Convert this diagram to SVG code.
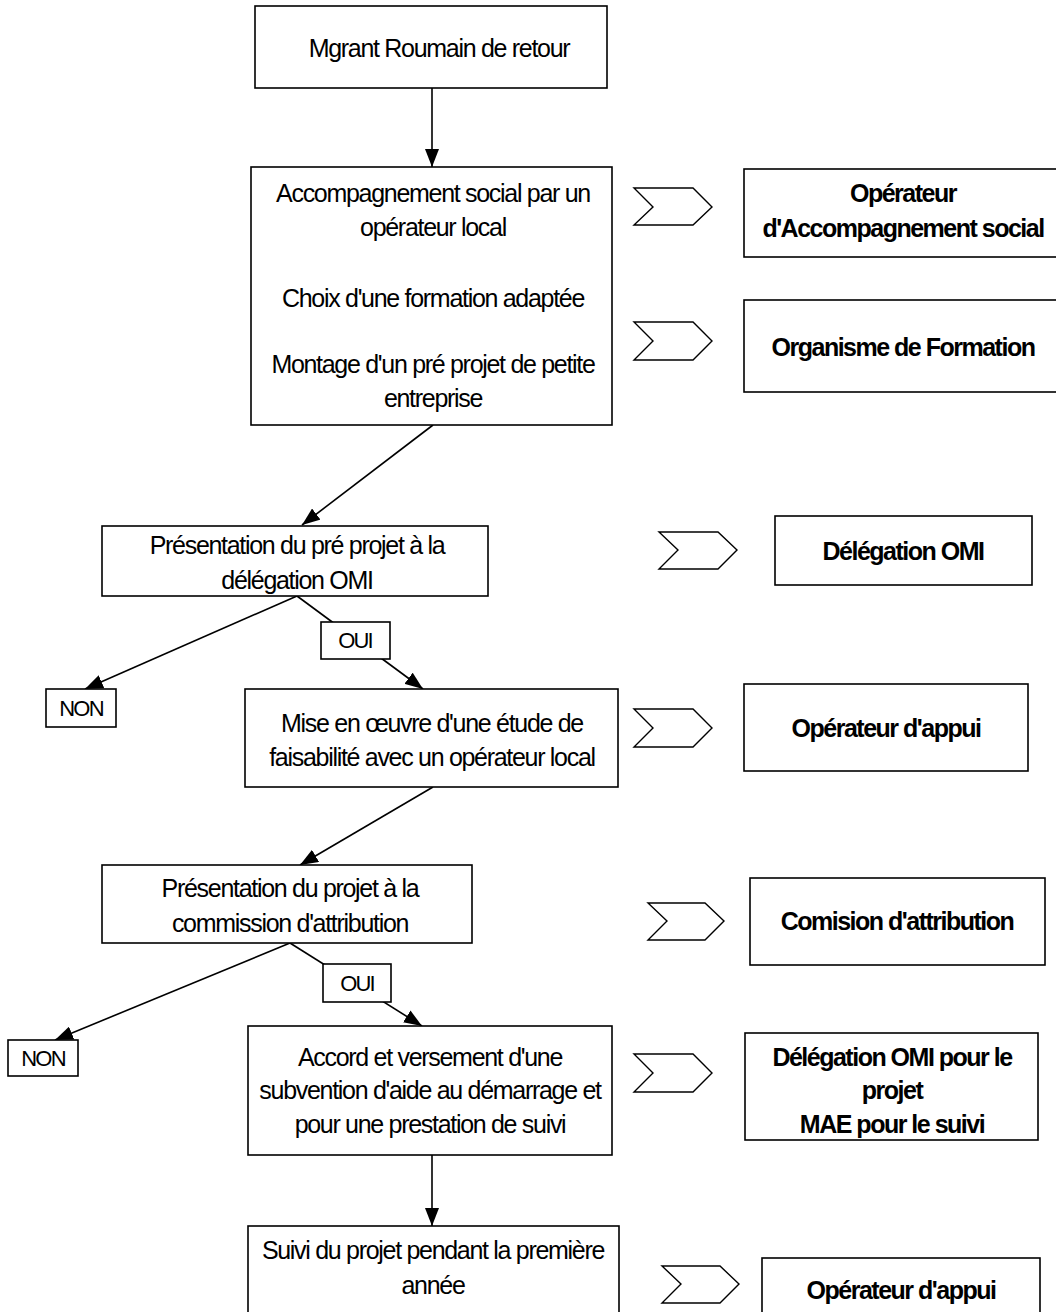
<svg xmlns="http://www.w3.org/2000/svg" width="1056" height="1312" viewBox="0 0 1056 1312">
<style>
  .box { fill: #fff; stroke: #000; stroke-width: 1.6; }
  .chev { fill: #fff; stroke: #000; stroke-width: 1.4; stroke-linejoin: miter; }
  .t { font-family: "Liberation Sans", Arial, sans-serif; font-size: 25px; letter-spacing: -1.3px; text-anchor: middle; fill: #000; }
  .b { font-family: "Liberation Sans", Arial, sans-serif; font-size: 25px; font-weight: bold; letter-spacing: -1.5px; text-anchor: middle; fill: #000; }
  .lbl { font-family: "Liberation Sans", Arial, sans-serif; font-size: 22px; letter-spacing: -1.8px; text-anchor: middle; fill: #000; }
  .conn { stroke: #000; stroke-width: 1.6; fill: none; }
</style>
<defs>
  <marker id="ah" viewBox="0 0 18 14" refX="18" refY="7" markerWidth="18" markerHeight="14" markerUnits="userSpaceOnUse" orient="auto">
    <path d="M0,0 L18,7 L0,14 Z" fill="#000"/>
  </marker>
</defs>
<rect width="1056" height="1312" fill="#fff"/>

<g id="connectors">
  <line class="conn" x1="432" y1="88" x2="432" y2="167" marker-end="url(#ah)"/>
  <line class="conn" x1="433" y1="425" x2="302" y2="525" marker-end="url(#ah)"/>
  <line class="conn" x1="297" y1="596" x2="85" y2="689" marker-end="url(#ah)"/>
  <line class="conn" x1="297" y1="596" x2="423" y2="689" marker-end="url(#ah)"/>
  <line class="conn" x1="433" y1="787" x2="300" y2="865" marker-end="url(#ah)"/>
  <line class="conn" x1="290" y1="943" x2="55" y2="1040" marker-end="url(#ah)"/>
  <line class="conn" x1="290" y1="943" x2="422" y2="1026" marker-end="url(#ah)"/>
  <line class="conn" x1="432" y1="1155" x2="432" y2="1226" marker-end="url(#ah)"/>
</g>

<g id="n-migrant">
  <rect class="box" x="255" y="6" width="352" height="82"/>
  <text class="t" x="439" y="57">Mgrant Roumain de retour</text>
</g>

<g id="n-accompagnement">
  <rect class="box" x="251" y="167" width="361" height="258"/>
  <text class="t" x="433" y="202">Accompagnement social par un</text>
  <text class="t" x="433" y="236">opérateur local</text>
  <text class="t" x="433" y="307">Choix d'une formation adaptée</text>
  <text class="t" x="433" y="373">Montage d'un pré projet de petite</text>
  <text class="t" x="433" y="407">entreprise</text>
</g>

<g id="n-presentation-pre">
  <rect class="box" x="102" y="526" width="386" height="70"/>
  <text class="t" x="297" y="554">Présentation du pré projet à la</text>
  <text class="t" x="297" y="589">délégation OMI</text>
</g>

<g id="n-oui1">
  <rect class="box" x="321" y="622" width="69" height="37"/>
  <text class="lbl" x="355" y="648">OUI</text>
</g>

<g id="n-non1">
  <rect class="box" x="46" y="689" width="70" height="38"/>
  <text class="lbl" x="81" y="716">NON</text>
</g>

<g id="n-mise">
  <rect class="box" x="245" y="689" width="373" height="98"/>
  <text class="t" x="432" y="732">Mise en œuvre d'une étude de</text>
  <text class="t" x="432" y="766">faisabilité avec un opérateur local</text>
</g>

<g id="n-presentation-projet">
  <rect class="box" x="102" y="865" width="370" height="78"/>
  <text class="t" x="290" y="897">Présentation du projet à la</text>
  <text class="t" x="290" y="932">commission d'attribution</text>
</g>

<g id="n-oui2">
  <rect class="box" x="323" y="964" width="68" height="38"/>
  <text class="lbl" x="357" y="991">OUI</text>
</g>

<g id="n-non2">
  <rect class="box" x="8" y="1040" width="70" height="36"/>
  <text class="lbl" x="43" y="1066">NON</text>
</g>

<g id="n-accord">
  <rect class="box" x="248" y="1026" width="364" height="129"/>
  <text class="t" x="430" y="1066">Accord et versement d'une</text>
  <text class="t" x="430" y="1099">subvention d'aide au démarrage et</text>
  <text class="t" x="430" y="1133">pour une prestation de suivi</text>
</g>

<g id="n-suivi">
  <rect class="box" x="248" y="1226" width="371" height="100"/>
  <text class="t" x="433" y="1259">Suivi du projet pendant la première</text>
  <text class="t" x="433" y="1294">année</text>
</g>

<g id="n-chev1"><polygon class="chev" points="634,188 693,188 712,207 693,225 634,225 653,207"/></g>
<g id="n-operateur-accomp">
  <rect class="box" x="744" y="169" width="320" height="88"/>
  <text class="b" x="903" y="202">Opérateur</text>
  <text class="b" x="903" y="237">d'Accompagnement social</text>
</g>

<g id="n-chev2"><polygon class="chev" points="634,322 693,322 712,341 693,360 634,360 653,341"/></g>
<g id="n-organisme">
  <rect class="box" x="744" y="300" width="320" height="92"/>
  <text class="b" x="903" y="356">Organisme de Formation</text>
</g>

<g id="n-chev3"><polygon class="chev" points="659,532 718,532 737,550 718,569 659,569 678,550"/></g>
<g id="n-delegation">
  <rect class="box" x="775" y="516" width="257" height="69"/>
  <text class="b" x="903" y="560">Délégation OMI</text>
</g>

<g id="n-chev4"><polygon class="chev" points="634,709 693,709 712,728 693,747 634,747 653,728"/></g>
<g id="n-operateur-appui1">
  <rect class="box" x="744" y="684" width="284" height="87"/>
  <text class="b" x="886" y="737">Opérateur d'appui</text>
</g>

<g id="n-chev5"><polygon class="chev" points="648,903 705,903 724,921 705,940 648,940 667,921"/></g>
<g id="n-comision">
  <rect class="box" x="750" y="878" width="295" height="87"/>
  <text class="b" x="897" y="930">Comision d'attribution</text>
</g>

<g id="n-chev6"><polygon class="chev" points="634,1054 693,1054 712,1073 693,1092 634,1092 653,1073"/></g>
<g id="n-delegation-mae">
  <rect class="box" x="745" y="1033" width="293" height="107"/>
  <text class="b" x="892" y="1066">Délégation OMI pour le</text>
  <text class="b" x="892" y="1099">projet</text>
  <text class="b" x="892" y="1133">MAE pour le suivi</text>
</g>

<g id="n-chev7"><polygon class="chev" points="662,1266 720,1266 739,1284 720,1303 662,1303 681,1284"/></g>
<g id="n-operateur-appui2">
  <rect class="box" x="762" y="1258" width="278" height="70"/>
  <text class="b" x="901" y="1299">Opérateur d'appui</text>
</g>
</svg>
